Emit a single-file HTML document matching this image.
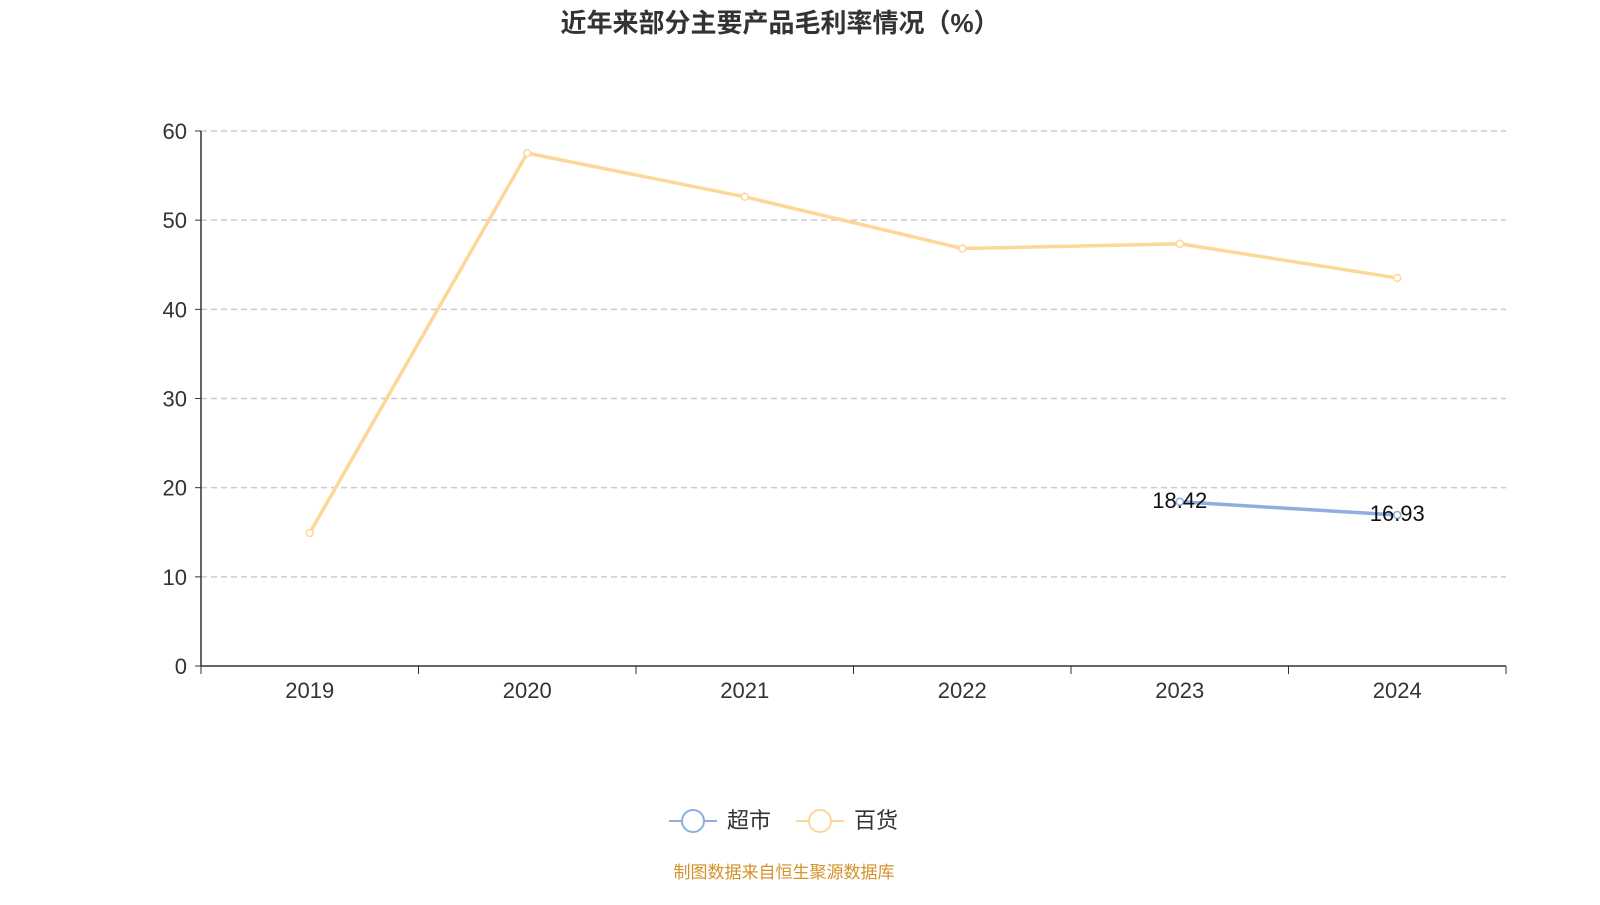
<!DOCTYPE html>
<html><head><meta charset="utf-8"><style>
body{margin:0;background:#fff;font-family:"Liberation Sans","Noto Sans CJK SC",sans-serif}
</style></head><body>
<svg id="c" width="1600" height="900" xmlns="http://www.w3.org/2000/svg" style="font-family:'Liberation Sans','Noto Sans CJK SC',sans-serif">
<text x="780" y="32" text-anchor="middle" font-size="26" font-weight="bold" fill="#333">近年来部分主要产品毛利率情况（%）</text>
<g id="grid"></g><g id="axes"></g><g id="series"></g>
<g>
<g><line x1="669" y1="821" x2="717" y2="821" stroke="#8eaee0" stroke-width="2"/><circle cx="693" cy="821" r="11" fill="#fff" stroke="#8eaee0" stroke-width="2"/><text x="727" y="828" font-size="22" fill="#333">超市</text></g>
<g><line x1="796" y1="821" x2="844" y2="821" stroke="#fdd797" stroke-width="2"/><circle cx="820" cy="821" r="11" fill="#fff" stroke="#fdd797" stroke-width="2"/><text x="854" y="828" font-size="22" fill="#333">百货</text></g>
</g>
<text x="784" y="878" text-anchor="middle" font-size="17" fill="#d4922a">制图数据来自恒生聚源数据库</text>
</svg>
<script>
const categories=["2019","2020","2021","2022","2023","2024"];
const baihuo=[14.92,57.52,52.62,46.82,47.35,43.52];
const chaoshi=[null,null,null,null,18.42,16.93];
const yTicks=[0,10,20,30,40,50,60];
const NS="http://www.w3.org/2000/svg";
const x0=201,x1=1506,yb=666,yt=131,ymax=60;
const step=(x1-x0)/categories.length;
const X=i=>x0+step*(i+0.5);
const Y=v=>yb-(v/ymax)*(yb-yt);
function mk(t,a,p){const e=document.createElementNS(NS,t);for(const k in a)e.setAttribute(k,a[k]);p.appendChild(e);return e;}
const grid=document.getElementById('grid'),axes=document.getElementById('axes'),ser=document.getElementById('series');
yTicks.forEach(v=>{
 if(v>0){const l=mk('line',{x1:x0,x2:x1,y1:Y(v),y2:Y(v),stroke:'#ccc','stroke-dasharray':'6,4','stroke-width':1.5},grid);
 
 }
 const t=mk('line',{x1:x0-6,x2:x0,y1:Y(v),y2:Y(v),stroke:'#333'},axes);
 const tx=mk('text',{x:x0-14,y:Y(v)+8,'text-anchor':'end','font-size':22,fill:'#333'},axes);tx.textContent=v;
 
 
});
const ya=mk('line',{x1:x0,x2:x0,y1:yt,y2:yb,stroke:'#333','stroke-width':1.5},axes);


const xa=mk('line',{x1:x0,x2:x1,y1:yb,y2:yb,stroke:'#333','stroke-width':1.5},axes);


for(let i=0;i<=categories.length;i++)mk('line',{x1:x0+step*i,x2:x0+step*i,y1:yb,y2:yb+8,stroke:'#333'},axes);
categories.forEach((c,i)=>{const t=mk('text',{x:X(i),y:698,'text-anchor':'middle','font-size':22,fill:'#333'},axes);t.textContent=c;
 
 });
function drawSeries(vals,color,name,labels){
 let d='';vals.forEach((v,i)=>{if(v==null)return;d+=(d?'L':'M')+X(i)+','+Y(v);});
 const p=mk('path',{d:d,fill:'none',stroke:color,'stroke-width':3.5},ser);
 
 
 vals.forEach((v,i)=>{if(v==null)return;
  const c=mk('circle',{cx:X(i),cy:Y(v),r:3.5,fill:'#fff',stroke:color,'stroke-width':1.5},ser);
  
  
  if(labels){const t=mk('text',{x:X(i),y:Y(v)+6,'text-anchor':'middle','font-size':22,fill:'#111'},ser);t.textContent=v.toFixed(2);
   
   }
 });
}
drawSeries(baihuo,'#fdd797','baihuo',false);
drawSeries(chaoshi,'#8eaee0','chaoshi',true);
</script>
</body></html>
